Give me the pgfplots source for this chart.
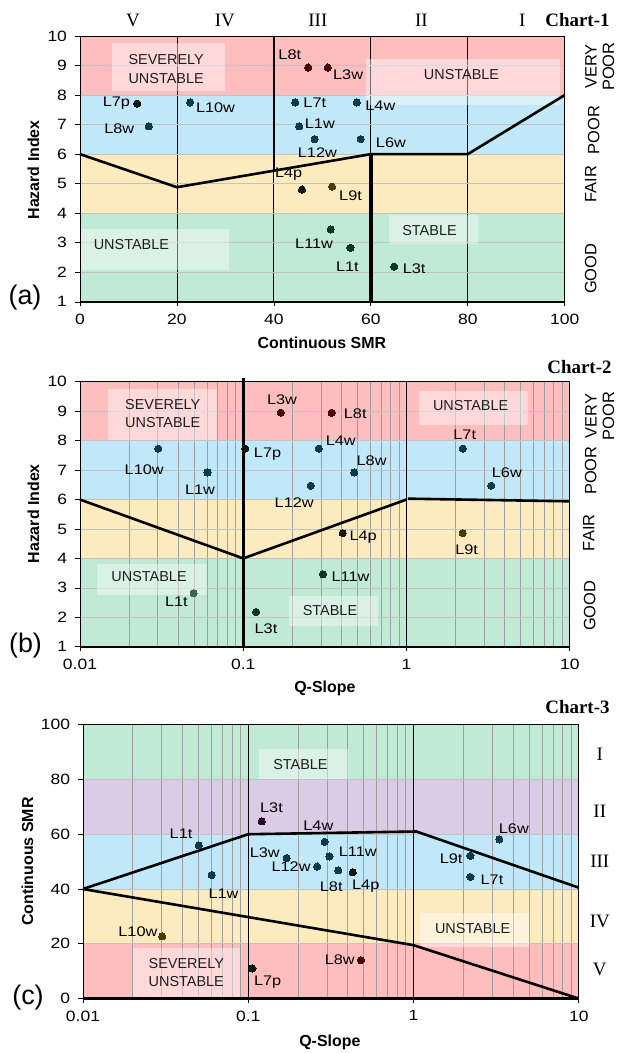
\documentclass[border=0pt]{standalone}
\usepackage{pgfplots}
\pgfplotsset{compat=1.18}
\usepackage{fontspec}
\setmainfont{Liberation Sans}
\newfontfamily\stf[FakeStretch=1.17]{Liberation Sans}
\newfontfamily\tmf{Liberation Serif}
\definecolor{bpink}{HTML}{FFBEBE}
\definecolor{bblue}{HTML}{C1E8F8}
\definecolor{byel}{HTML}{FDEBC0}
\definecolor{bgreen}{HTML}{C0EAD5}
\definecolor{bpurp}{HTML}{DCCBE5}
\definecolor{dred}{HTML}{4A0808}
\definecolor{dteal}{HTML}{0B3A48}
\definecolor{dgreen}{HTML}{0B3A24}
\definecolor{dolive}{HTML}{4A3A10}
\definecolor{dblack}{HTML}{151515}
\definecolor{gteal}{HTML}{3E6657}
\definecolor{dpurp}{HTML}{2A0A2A}
\definecolor{txt}{HTML}{1E1E1E}
\newcommand\tickf{\stf\fontsize{15}{17}\selectfont}
\newcommand\ptf{\stf\fontsize{14}{16}\selectfont}
\newcommand\boxf{\fontsize{14.5}{18.3}\selectfont}
\newcommand\titf{\bfseries\fontsize{16}{18}\selectfont}
\newcommand\sidef{\fontsize{16.5}{17.5}\selectfont}
\newcommand\romf{\tmf\fontsize{19}{21}\selectfont}
\newcommand\chf{\tmf\bfseries\fontsize{19}{21}\selectfont}
\newcommand\panf{\fontsize{27}{30}\selectfont}

\pgfplotsset{
  base/.style={
    scale only axis, set layers, clip=false,
    tick pos=left, tick align=outside,
    major tick length=4.5bp, minor tick length=0bp,
    tick style={black, line width=0.7bp},
    axis line style={black, line width=0.8bp},
    ticklabel style={font=\tickf, text=black},
    xticklabel style={yshift=-4bp},
    yticklabel style={xshift=-5bp},
    /pgf/number format/assume math mode=true,
    ymajorgrids, major y grid style={black!24, line width=0.7bp},
    xmajorgrids, major x grid style={black, line width=0.8bp},
  },
  qslope/.style={
    xmin=0.01, xmax=10,
    xtick={0.01,0.1,1,10}, xticklabels={0.01,0.1,1,10},
    minor xtick={0.02,0.03,0.04,0.05,0.06,0.07,0.08,0.09,0.2,0.3,0.4,0.5,0.6,0.7,0.8,0.9,2,3,4,5,6,7,8,9},
    xminorgrids, minor x grid style={black!38, line width=0.9bp},
  },
  band/.style={on layer=axis background, draw=none, fill=#1},
  wbox/.style={draw=none, fill=white, fill opacity=0.42},
  bline/.style={black, line width=2.6bp, line join=round},
  pts/.style={only marks, mark=*, mark size=3.6bp,
    mark options={draw=#1, fill=#1, line width=0pt},
    nodes near coords, point meta=explicit symbolic,
    visualization depends on={\thisrow{dx}\as\dx},
    visualization depends on={\thisrow{dy}\as\dy},
    every node near coord/.append style={anchor=center, xshift=\dx bp, yshift=\dy bp, font=\ptf, text=black, inner sep=0pt},
  },
}

\begin{document}
\begin{tikzpicture}
%%%%%%%%%%%%%%%% Chart 1
\begin{axis}[base, at={(80bp,751bp)}, anchor=south west, width=485bp, height=266bp,
  xmin=0, xmax=100, ymin=1, ymax=10, xtick={0,20,40,60,80,100}, ytick={1,2,3,4,5,6,7,8,9,10}]
\addplot[band=bgreen] coordinates {(0,1)(100,1)(100,4)(0,4)} -- cycle;
\addplot[band=byel] coordinates {(0,4)(100,4)(100,6)(0,6)} -- cycle;
\addplot[band=bblue] coordinates {(0,6)(100,6)(100,8)(0,8)} -- cycle;
\addplot[band=bpink] coordinates {(0,8)(100,8)(100,10)(0,10)} -- cycle;
\addplot[wbox] coordinates {(6.7,8.14)(30,8.14)(30,9.75)(6.7,9.75)} -- cycle;
\addplot[wbox] coordinates {(59.1,7.66)(99,7.66)(99,9.23)(59.1,9.23)} -- cycle;
\addplot[wbox] coordinates {(0.2,2.08)(30.8,2.08)(30.8,3.45)(0.2,3.45)} -- cycle;
\addplot[wbox] coordinates {(63.7,2.95)(82.2,2.95)(82.2,3.95)(63.7,3.95)} -- cycle;
\addplot[bline] coordinates {(0,6)(20,4.88)(60,6)(80,6)(100,8)};
\addplot[bline] coordinates {(40,5.45)(40,10)};
\addplot[black, line width=3.6bp] coordinates {(60,1)(60,6)};
\draw[black, line width=2.4bp] (rel axis cs:0,0) -- (rel axis cs:1,0);
\node[font=\boxf, text=txt, align=left, anchor=west] at (axis cs:9.3,8.88) {SEVERELY\\UNSTABLE};
\node[font=\boxf, text=txt] at (axis cs:78.7,8.68) {UNSTABLE};
\node[font=\boxf, text=txt] at (axis cs:10.6,2.93) {UNSTABLE};
\node[font=\boxf, text=txt] at (axis cs:72.1,3.41) {STABLE};
\addplot[pts=dred] table[meta=lab] {
x y dx dy lab
47.1 8.93 -18.5 13.3 L8t
51.1 8.93 20.4 -6.7 L3w
};
\addplot[pts=dteal] table[meta=lab] {
x y dx dy lab
22.7 7.75 25.5 -5 L10w
44.4 7.75 19.6 0 L7t
57.1 7.75 23.6 -3.3 L4w
45.2 6.94 20.8 2.3 L1w
14.2 6.94 -29.5 -2.7 L8w
48.4 6.51 2.8 -14 L12w
57.9 6.51 30.3 -3.3 L6w
};
\addplot[pts=dblack] table[meta=lab] {
x y dx dy lab
11.8 7.71 -20.8 0 L7p
45.8 4.8 -13.4 15.3 L4p
};
\addplot[pts=dolive] table[meta=lab] {
x y dx dy lab
52.0 4.9 18.5 -8.7 L9t
};
\addplot[pts=dgreen] table[meta=lab] {
x y dx dy lab
51.7 3.45 -16.5 -14 L11w
55.8 2.83 -3.1 -19.3 L1t
64.8 2.19 20 -2.3 L3t
};
\end{axis}
%%%%%%%%%%%%%%%% Chart 2
\begin{axis}[base, xmode=log, qslope, at={(80bp,406bp)}, anchor=south west, width=490bp, height=265bp,
  ymin=1, ymax=10, ytick={1,2,3,4,5,6,7,8,9,10}]
\addplot[band=bgreen] coordinates {(0.01,1)(10,1)(10,4)(0.01,4)} -- cycle;
\addplot[band=byel] coordinates {(0.01,4)(10,4)(10,6)(0.01,6)} -- cycle;
\addplot[band=bblue] coordinates {(0.01,6)(10,6)(10,8)(0.01,8)} -- cycle;
\addplot[band=bpink] coordinates {(0.01,8)(10,8)(10,10)(0.01,10)} -- cycle;
\addplot[wbox] coordinates {(0.01475,8.02)(0.069,8.02)(0.069,9.74)(0.01475,9.74)} -- cycle;
\addplot[wbox] coordinates {(1.19,8.53)(5.52,8.53)(5.52,9.69)(1.19,9.69)} -- cycle;
\addplot[wbox] coordinates {(0.0128,2.76)(0.060,2.76)(0.060,3.82)(0.0128,3.82)} -- cycle;
\addplot[wbox] coordinates {(0.191,1.72)(0.667,1.72)(0.667,2.71)(0.191,2.71)} -- cycle;
\addplot[bline] coordinates {(0.01,6)(0.1,4)(1,6)};
\addplot[bline] coordinates {(1.02,6.03)(10,5.94)};
\addplot[black, line width=3bp] coordinates {(0.1,1)(0.1,10.12)};
\addplot[black, line width=1.4bp] coordinates {(1,1)(1,10)};
\draw[black, line width=2.4bp] (rel axis cs:0,0) -- (rel axis cs:1,0);
\node[font=\boxf, text=txt, align=left, anchor=west] at (axis cs:0.018,8.92) {SEVERELY\\UNSTABLE};
\node[font=\boxf, text=txt] at (axis cs:2.47,9.18) {UNSTABLE};
\node[font=\boxf, text=txt] at (axis cs:0.0265,3.40) {UNSTABLE};
\node[font=\boxf, text=txt] at (axis cs:0.34,2.23) {STABLE};
\addplot[pts=dred] table[meta=lab] {
x y dx dy lab
0.170 8.95 1.2 12.7 L3w
0.348 8.95 23.6 -1.3 L8t
};
\addplot[pts=dteal] table[meta=lab] {
x y dx dy lab
0.0302 7.73 -14.1 -21 L10w
0.0604 6.92 -7.5 -17 L1w
0.290 7.73 22 7.7 L4w
0.479 6.92 17.3 11.7 L8w
0.259 6.47 -16.5 -16.7 L12w
2.21 7.73 2 14 L7t
3.30 6.47 15.7 12.7 L6w
};
\addplot[pts=dblack] table[meta=lab] {
x y dx dy lab
0.1028 7.73 22.4 -5.7 L7p
0.407 4.86 20.4 -3.7 L4p
};
\addplot[pts=dolive] table[meta=lab] {
x y dx dy lab
2.21 4.86 3.9 -17 L9t
};
\addplot[pts=dgreen] table[meta=lab] {
x y dx dy lab
0.308 3.46 27.5 -2 L11w
0.120 2.18 9.8 -16.7 L3t
};
\addplot[pts=gteal] table[meta=lab] {
x y dx dy lab
0.0497 2.82 -17.3 -9 L1t
};
\end{axis}
%%%%%%%%%%%%%%%% Chart 3
\begin{axis}[base, xmode=log, qslope, at={(83bp,54bp)}, anchor=south west, width=496bp, height=274bp,
  ymin=0, ymax=100, ytick={0,20,40,60,80,100}]
\addplot[band=bpink] coordinates {(0.01,0)(10,0)(10,20)(0.01,20)} -- cycle;
\addplot[band=byel] coordinates {(0.01,20)(10,20)(10,40)(0.01,40)} -- cycle;
\addplot[band=bblue] coordinates {(0.01,40)(10,40)(10,60)(0.01,60)} -- cycle;
\addplot[band=bpurp] coordinates {(0.01,60)(10,60)(10,80)(0.01,80)} -- cycle;
\addplot[band=bgreen] coordinates {(0.01,80)(10,80)(10,100)(0.01,100)} -- cycle;
\addplot[wbox] coordinates {(0.117,80.3)(0.404,80.3)(0.404,91.2)(0.117,91.2)} -- cycle;
\addplot[wbox] coordinates {(1.10,19.0)(4.99,19.0)(4.99,31.4)(1.10,31.4)} -- cycle;
\addplot[wbox] coordinates {(0.0201,0.3)(0.0891,0.3)(0.0891,18.5)(0.0201,18.5)} -- cycle;
\addplot[black, line width=1.3bp] coordinates {(0.1,0)(0.1,100)};
\addplot[black, line width=1.3bp] coordinates {(1,0)(1,100)};
\addplot[bline] coordinates {(0.01,40)(0.1,60)(1.04,61)(10,40.5)};
\addplot[bline] coordinates {(0.01,40)(1,19.5)(10,0)};
\draw[black, line width=2.4bp] (rel axis cs:0,0) -- (rel axis cs:1,0);
\node[font=\boxf, text=txt] at (axis cs:0.207,85.4) {STABLE};
\node[font=\boxf, text=txt] at (axis cs:2.28,25.5) {UNSTABLE};
\node[font=\boxf, text=txt, align=left, anchor=west] at (axis cs:0.0238,9.5) {SEVERELY\\UNSTABLE};
\addplot[pts=dpurp] table[meta=lab] {
x y dx dy lab
0.1206 64.7 9.8 14 L3t
};
\addplot[pts=dteal] table[meta=lab] {
x y dx dy lab
0.0502 55.9 -17.7 11.7 L1t
0.290 57.2 -6.3 16.3 L4w
0.171 51.3 -22 5.3 L3w
0.310 51.9 28.3 5 L11w
2.21 52.1 -19.3 -3 L9t
3.31 58.1 14.5 10.7 L6w
0.261 48.2 -26 -0.3 L12w
0.351 46.8 -7.1 -16.3 L8t
0.0601 45.1 11.8 -18.3 L1w
2.21 44.4 21.6 -2.3 L7t
};
\addplot[pts=dblack] table[meta=lab] {
x y dx dy lab
0.429 46.1 13 -14.3 L4p
0.106 11.0 15.3 -14 L7p
};
\addplot[pts=dolive] table[meta=lab] {
x y dx dy lab
0.0302 22.7 -24.4 4.7 L10w
};
\addplot[pts=dred] table[meta=lab] {
x y dx dy lab
0.481 14.0 -21.2 1 L8w
};
\end{axis}
%%%%%%%%%%%%%%%% Annotations
% chart 1
\node[font=\romf] at (133bp,1033bp) {V};
\node[font=\romf] at (225bp,1033bp) {IV};
\node[font=\romf] at (318bp,1033bp) {III};
\node[font=\romf] at (421.6bp,1033bp) {II};
\node[font=\romf] at (522.6bp,1033bp) {I};
\node[font=\chf, anchor=east, inner sep=0pt] at (610bp,1033bp) {Chart-1};
\node[font=\sidef, rotate=90, align=center] at (600bp,986.3bp) {VERY\\POOR};
\node[font=\sidef, rotate=90] at (594bp,922.7bp) {POOR};
\node[font=\sidef, rotate=90] at (591bp,869bp) {FAIR};
\node[font=\sidef, rotate=90] at (591bp,784bp) {GOOD};
\node[font=\titf] at (322bp,710bp) {Continuous SMR};
\node[font=\titf, rotate=90] at (33.4bp,883bp) {Hazard Index};
\node[font=\panf] at (25bp,755.5bp) {(a)};
% chart 2
\node[font=\chf, anchor=east, inner sep=0pt] at (612bp,686.3bp) {Chart-2};
\node[font=\sidef, rotate=90, align=center] at (600bp,637bp) {VERY\\POOR};
\node[font=\sidef, rotate=90] at (591bp,582.2bp) {POOR};
\node[font=\sidef, rotate=90] at (589bp,520bp) {FAIR};
\node[font=\sidef, rotate=90] at (590bp,447bp) {GOOD};
\node[font=\titf] at (325bp,364bp) {Q-Slope};
\node[font=\titf, rotate=90] at (33.4bp,539bp) {Hazard Index};
\node[font=\panf] at (25.5bp,407bp) {(b)};
% chart 3
\node[font=\chf, anchor=east, inner sep=0pt] at (610bp,346bp) {Chart-3};
\node[font=\romf] at (600bp,298bp) {I};
\node[font=\romf] at (600bp,241.3bp) {II};
\node[font=\romf] at (600bp,191.3bp) {III};
\node[font=\romf] at (600bp,131.3bp) {IV};
\node[font=\romf] at (600bp,83bp) {V};
\node[font=\titf] at (330bp,10.3bp) {Q-Slope};
\node[font=\titf, rotate=90] at (27.5bp,191bp) {Continuous SMR};
\node[font=\panf] at (28bp,55bp) {(c)};
\path (0,0) rectangle (616bp,1053bp);
\end{tikzpicture}
\end{document}
